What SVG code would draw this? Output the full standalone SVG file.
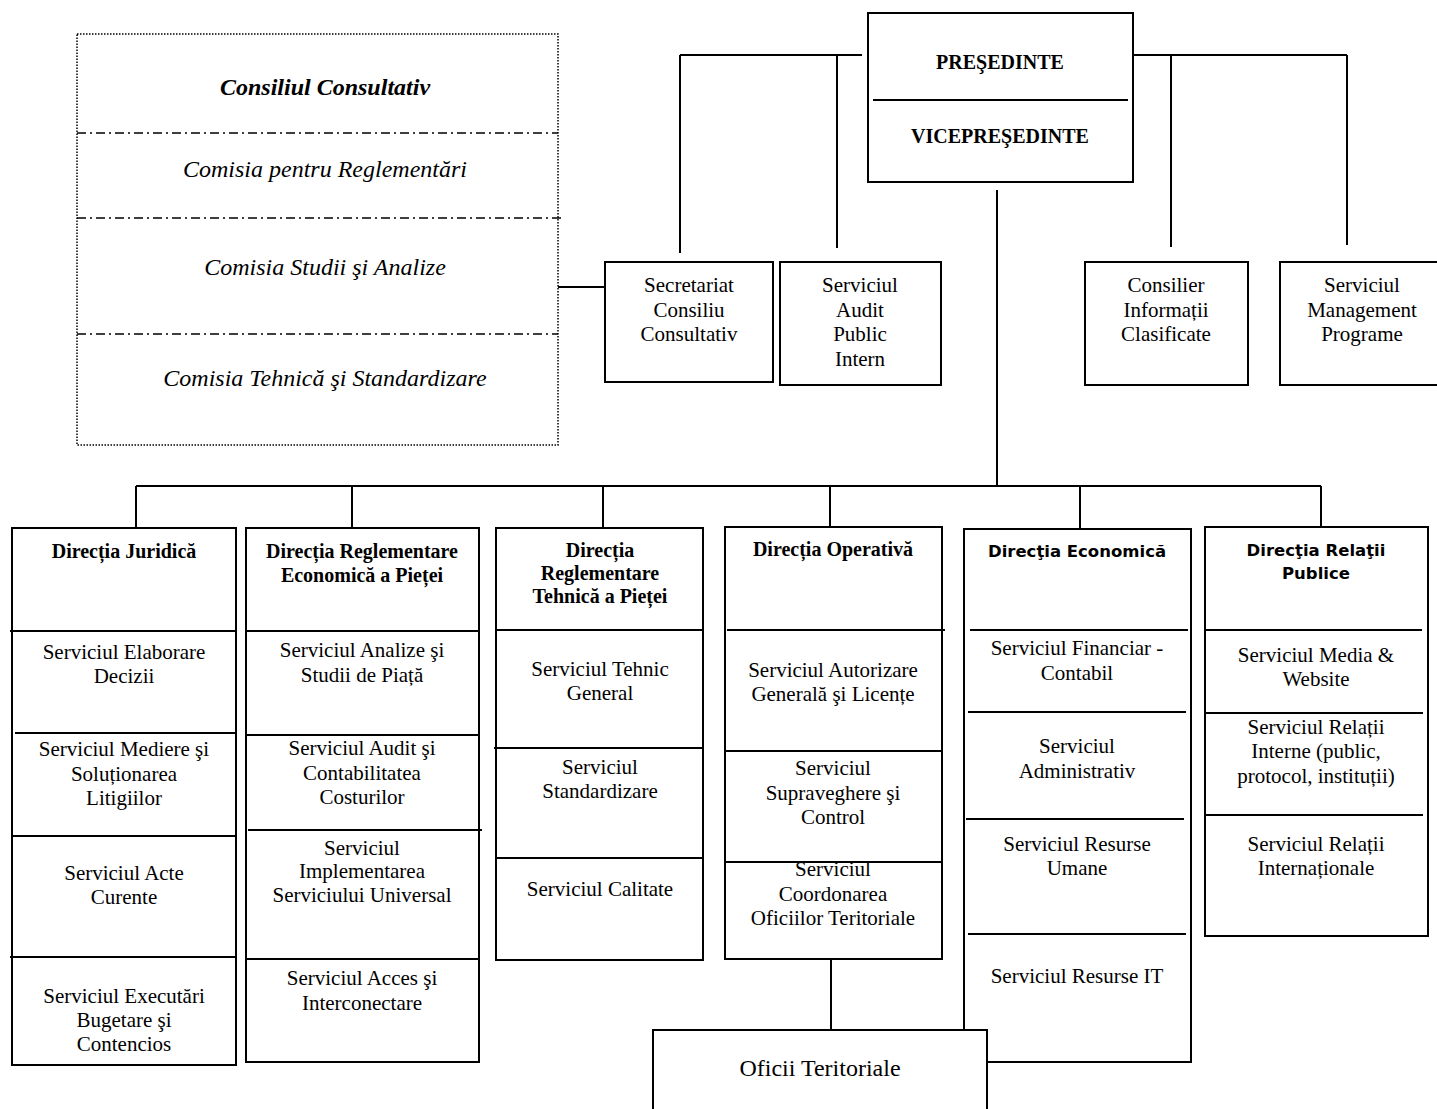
<svg xmlns="http://www.w3.org/2000/svg" width="1437" height="1109" viewBox="0 0 1437 1109">
<style>
.box{fill:#fff;stroke:#000;stroke-width:2}
.ln{stroke:#000;stroke-width:2;fill:none}
.dot{fill:#fff;stroke:#000;stroke-width:1.5;stroke-dasharray:1.5 1.5}
.dd{stroke:#000;stroke-width:1.5;stroke-dasharray:9 4 2 4;fill:none}
text{font-family:"Liberation Serif","Times New Roman",serif;font-size:21px;text-anchor:middle;fill:#000}
.h{font-weight:bold;font-size:20px}
.hs{font-family:"DejaVu Sans","Liberation Sans",sans-serif;font-weight:bold;font-size:16.5px}
.it{font-style:italic;font-size:24px}
.big{font-size:24px}
</style>
<rect width="1437" height="1109" fill="#fff"/>

<g id="connectors">
<path class="ln" d="M680,55H862M680,55V253M837,55V248M1130,55H1347M1171,55V247M1347,55V245"/>
<path class="ln" d="M997,190V486"/>
<path class="ln" d="M558,287H605"/>
<path class="ln" d="M136,486H1321M136,486V528M352,486V528M603,486V528M830,486V527M1080,486V529M1321,486V527"/>
<path class="ln" d="M831,959V1030"/>
</g>

<g id="consiliul-consultativ">
<rect class="dot" x="77" y="34" width="481" height="411"/>
<path class="dd" d="M77,133H558M77,218H562M77,334H558"/>
<text class="it" x="325" y="95" font-weight="bold">Consiliul Consultativ</text>
<text class="it" x="325" y="177">Comisia pentru Reglementări</text>
<text class="it" x="325" y="275">Comisia Studii şi Analize</text>
<text class="it" x="325" y="386">Comisia Tehnică şi Standardizare</text>
</g>

<g id="presedinte">
<rect class="box" x="868" y="13" width="265" height="169"/>
<path class="ln" d="M873,100H1128"/>
<text class="h" x="1000" y="69" font-size="21">PREŞEDINTE</text>
<text class="h" x="1000" y="143" font-size="21">VICEPREŞEDINTE</text>
</g>

<g id="secretariat">
<rect class="box" x="605" y="262" width="168" height="120"/>
<text x="689" y="292">Secretariat</text>
<text x="689" y="317">Consiliu</text>
<text x="689" y="341">Consultativ</text>
</g>
<g id="audit">
<rect class="box" x="780" y="262" width="161" height="123"/>
<text x="860" y="292">Serviciul</text>
<text x="860" y="317">Audit</text>
<text x="860" y="341">Public</text>
<text x="860" y="366">Intern</text>
</g>
<g id="consilier">
<rect class="box" x="1085" y="262" width="163" height="123"/>
<text x="1166" y="292">Consilier</text>
<text x="1166" y="317">Informații</text>
<text x="1166" y="341">Clasificate</text>
</g>
<g id="management">
<rect class="box" x="1280" y="262" width="165" height="123"/>
<text x="1362" y="292">Serviciul</text>
<text x="1362" y="317">Management</text>
<text x="1362" y="341">Programe</text>
</g>

<g id="directia-juridica">
<rect class="box" x="12" y="528" width="224" height="537"/>
<path class="ln" d="M10,631H236M15,733H236M12,836H236M10,957H236"/>
<text class="h" x="124" y="558">Direcția Juridică</text>
<text x="124" y="659">Serviciul Elaborare</text>
<text x="124" y="683">Decizii</text>
<text x="124" y="756">Serviciul Mediere şi</text>
<text x="124" y="781">Soluționarea</text>
<text x="124" y="805">Litigiilor</text>
<text x="124" y="880">Serviciul Acte</text>
<text x="124" y="904">Curente</text>
<text x="124" y="1003">Serviciul Executări</text>
<text x="124" y="1027">Bugetare şi</text>
<text x="124" y="1051">Contencios</text>
</g>

<g id="directia-reglementare-economica">
<rect class="box" x="246" y="528" width="233" height="534"/>
<path class="ln" d="M246,631H479M246,735H479M248,830H482M246,959H479"/>
<text class="h" x="362" y="558">Direcția Reglementare</text>
<text class="h" x="362" y="582">Economică a Pieței</text>
<text x="362" y="657">Serviciul Analize şi</text>
<text x="362" y="682">Studii de Piață</text>
<text x="362" y="755">Serviciul Audit şi</text>
<text x="362" y="780">Contabilitatea</text>
<text x="362" y="804">Costurilor</text>
<text x="362" y="855">Serviciul</text>
<text x="362" y="878">Implementarea</text>
<text x="362" y="902">Serviciului Universal</text>
<text x="362" y="985">Serviciul Acces şi</text>
<text x="362" y="1010">Interconectare</text>
</g>

<g id="directia-reglementare-tehnica">
<rect class="box" x="496" y="528" width="207" height="432"/>
<path class="ln" d="M496,630H703M494,748H703M496,858H703"/>
<text class="h" x="600" y="557">Direcția</text>
<text class="h" x="600" y="580">Reglementare</text>
<text class="h" x="600" y="603">Tehnică a Pieței</text>
<text x="600" y="676">Serviciul Tehnic</text>
<text x="600" y="700">General</text>
<text x="600" y="774">Serviciul</text>
<text x="600" y="798">Standardizare</text>
<text x="600" y="896">Serviciul Calitate</text>
</g>

<g id="directia-operativa">
<rect class="box" x="725" y="527" width="217" height="432"/>
<path class="ln" d="M727,630H945M725,751H942M725,862H942"/>
<text class="h" x="833" y="556">Direcția Operativă</text>
<text x="833" y="677">Serviciul Autorizare</text>
<text x="833" y="701">Generală şi Licențe</text>
<text x="833" y="775">Serviciul</text>
<text x="833" y="800">Supraveghere şi</text>
<text x="833" y="824">Control</text>
<text x="833" y="876">Serviciul</text>
<text x="833" y="901">Coordonarea</text>
<text x="833" y="925">Oficiilor Teritoriale</text>
</g>

<g id="directia-economica">
<rect class="box" x="964" y="529" width="227" height="533"/>
<path class="ln" d="M970,630H1188M968,712H1186M966,819H1184M968,934H1186"/>
<text class="hs" x="1077" y="557">Direcţia Economică</text>
<text x="1077" y="655">Serviciul Financiar -</text>
<text x="1077" y="680">Contabil</text>
<text x="1077" y="753">Serviciul</text>
<text x="1077" y="778">Administrativ</text>
<text x="1077" y="851">Serviciul Resurse</text>
<text x="1077" y="875">Umane</text>
<text x="1077" y="983">Serviciul Resurse IT</text>
</g>

<g id="directia-relatii-publice">
<rect class="box" x="1205" y="527" width="223" height="409"/>
<path class="ln" d="M1204,630H1422M1205,713H1423M1205,815H1423"/>
<text class="hs" x="1316" y="556">Direcţia Relaţii</text>
<text class="hs" x="1316" y="579">Publice</text>
<text x="1316" y="662">Serviciul Media &amp;</text>
<text x="1316" y="686">Website</text>
<text x="1316" y="734">Serviciul Relații</text>
<text x="1316" y="758">Interne (public,</text>
<text x="1316" y="783">protocol, instituții)</text>
<text x="1316" y="851">Serviciul Relații</text>
<text x="1316" y="875">Internaționale</text>
</g>

<g id="oficii-teritoriale">
<rect class="box" x="653" y="1030" width="334" height="90"/>
<text class="big" x="820" y="1076">Oficii Teritoriale</text>
</g>
</svg>
